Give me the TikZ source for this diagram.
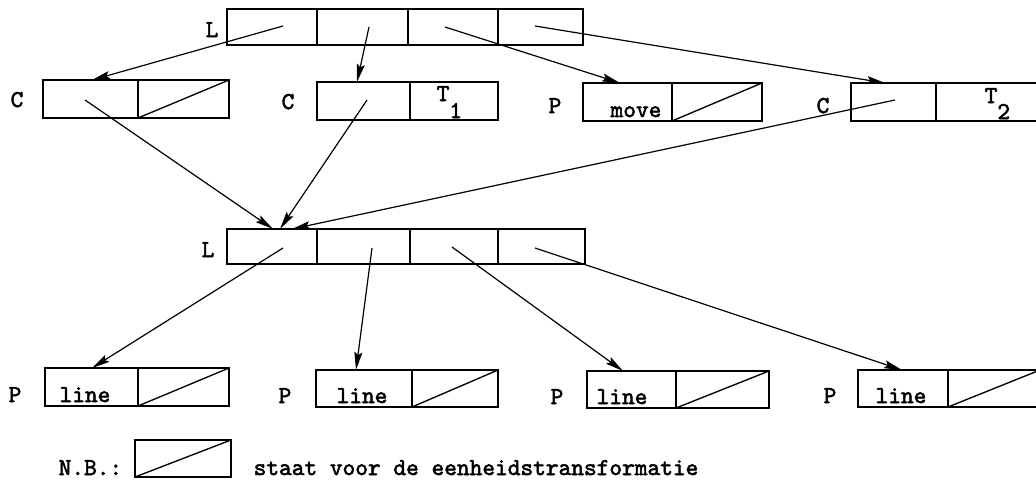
\documentclass[tikz,border=0pt]{standalone}
\usepackage{fontspec}
\newfontfamily\typew{lmmono10-regular.otf}[FakeBold=2.2]
\usetikzlibrary{arrows.meta,calc}
\begin{document}
\begin{tikzpicture}[x=1pt,y=-1pt,line width=1.35pt,
  cell/.style={draw, rectangle, inner sep=0pt, outer sep=0pt, anchor=north west},
  ptr/.style={line width=1.2pt,-{Stealth[length=18pt,width=8pt,inset=3pt]}},
  lbl/.style={font=\typew\fontsize{24.2}{27}\selectfont, inner sep=0pt, anchor=base},
  unit/.style={line width=1.35pt}]
\fill[white] (0,0) rectangle (1036,482);
\useasboundingbox (0,0) rectangle (1036,482);
\clip (0,0) rectangle (1036,482);

% ---- top list L ----
\node[cell, minimum width=90pt, minimum height=36pt] (La) at (227,9) {};
\node[cell, minimum width=91pt, minimum height=36pt] (Lb) at (317,9) {};
\node[cell, minimum width=90pt, minimum height=36pt] (Lc) at (408,9) {};
\node[cell, minimum width=85pt, minimum height=36pt] (Ld) at (498,9) {};
\node[lbl] (labL) at (212,37) {L};

% ---- second row ----
\node[cell, minimum width=95pt, minimum height=38pt] (C1a) at (43,80) {};
\node[cell, minimum width=91pt, minimum height=38pt] (C1b) at (138,80) {};
\draw[unit] (C1b.south west) -- (C1b.north east);
\node[lbl] (labC1) at (17,107) {C};

\node[cell, minimum width=93pt, minimum height=38pt] (C2a) at (317,82) {};
\node[cell, minimum width=88pt, minimum height=38pt] (C2b) at (410,82) {};
\node[lbl] (labC2) at (288,109) {C};
\node[lbl, anchor=base west] (T1) at (436,101) {T\raisebox{-17pt}{1}};

\node[cell, minimum width=89pt, minimum height=38pt] (Pma) at (583,83) {};
\node[cell, minimum width=90pt, minimum height=38pt] (Pmb) at (672,83) {};
\draw[unit] (Pmb.south west) -- (Pmb.north east);
\node[lbl] (labPm) at (555,113) {P};
\node[lbl] (move) at (636,117) {move};

\node[cell, minimum width=85pt, minimum height=38pt] (C3a) at (851,83) {};
\node[cell, minimum width=104pt, minimum height=38pt] (C3b) at (936,83) {};
\node[lbl] (labC3) at (823,113) {C};
\node[lbl, anchor=base west] (T2) at (984,103) {T\raisebox{-16pt}{2}};

% ---- middle list L ----
\node[cell, minimum width=90pt, minimum height=35pt] (Ma) at (227,229) {};
\node[cell, minimum width=93pt, minimum height=35pt] (Mb) at (317,229) {};
\node[cell, minimum width=88pt, minimum height=35pt] (Mc) at (410,229) {};
\node[cell, minimum width=87pt, minimum height=35pt] (Md) at (498,229) {};
\node[lbl] (labM) at (208,257) {L};

% ---- bottom row ----
\node[cell, minimum width=93pt, minimum height=38pt] (P1a) at (45,368) {};
\node[cell, minimum width=91pt, minimum height=38pt] (P1b) at (138,368) {};
\draw[unit] (P1b.south west) -- (P1b.north east);
\node[lbl] (labP1) at (15,402) {P};
\node[lbl] (line1) at (85,402) {line};

\node[cell, minimum width=96pt, minimum height=37pt] (P2a) at (316,370) {};
\node[cell, minimum width=86pt, minimum height=37pt] (P2b) at (412,370) {};
\draw[unit] (P2b.south west) -- (P2b.north east);
\node[lbl] (labP2) at (285,403) {P};
\node[lbl] (line2) at (362,403) {line};

\node[cell, minimum width=89pt, minimum height=37pt] (P3a) at (587,371) {};
\node[cell, minimum width=93pt, minimum height=37pt] (P3b) at (676,371) {};
\draw[unit] (P3b.south west) -- (P3b.north east);
\node[lbl] (labP3) at (557,404) {P};
\node[lbl] (line3) at (622,404) {line};

\node[cell, minimum width=90pt, minimum height=37pt] (P4a) at (858,370) {};
\node[cell, minimum width=92pt, minimum height=37pt] (P4b) at (948,370) {};
\draw[unit] (P4b.south west) -- (P4b.north east);
\node[lbl] (labP4) at (830,403) {P};
\node[lbl] (line4) at (901,403) {line};

% ---- legend ----
\node[lbl, anchor=base west] (nb) at (58,475) {N.B.:};
\node[cell, minimum width=96pt, minimum height=37pt] (unitbox) at (135,440) {};
\draw[unit] (unitbox.south west) -- (unitbox.north east);
\node[lbl, anchor=base west] (legend) at (253,475) {staat voor de eenheidstransformatie};

% ---- pointer origins ----
\coordinate (sLa) at (283,26);
\coordinate (sLb) at (369,27);
\coordinate (sLc) at (445,27);
\coordinate (sLd) at (535,26);
\coordinate (sC1) at (85,100);
\coordinate (sC2) at (367,100);
\coordinate (sC3) at (895,100);
\coordinate (sMa) at (283,248);
\coordinate (sMb) at (372,248);
\coordinate (sMc) at (452,247);
\coordinate (sMd) at (535,248);

% ---- pointers ----
\draw[ptr] (sLa) -- ($(C1a.north west)+(49,0)$);
\draw[ptr] (sLb) -- ($(C2a.north west)+(40,0)$);
\draw[ptr] (sLc) -- ($(Pma.north west)+(37,0)$);
\draw[ptr] (sLd) -- ($(C3a.north west)+(34,0)$);
\draw[ptr] (sC1) -- ($(Ma.north west)+(46,0)$);
\draw[ptr] (sC2) -- ($(Ma.north west)+(53,0)$);
\draw[ptr] (sC3) -- ($(Ma.north west)+(65,0)$);
\draw[ptr] (sMa) -- ($(P1a.north west)+(47,0)$);
\draw[ptr] (sMb) -- ($(P2a.north west)+(40,0)$);
\draw[ptr] (sMc) -- ($(P3a.north west)+(36,0)$);
\draw[ptr] (sMd) -- ($(P4a.north west)+(44,0)$);
\end{tikzpicture}
\end{document}
